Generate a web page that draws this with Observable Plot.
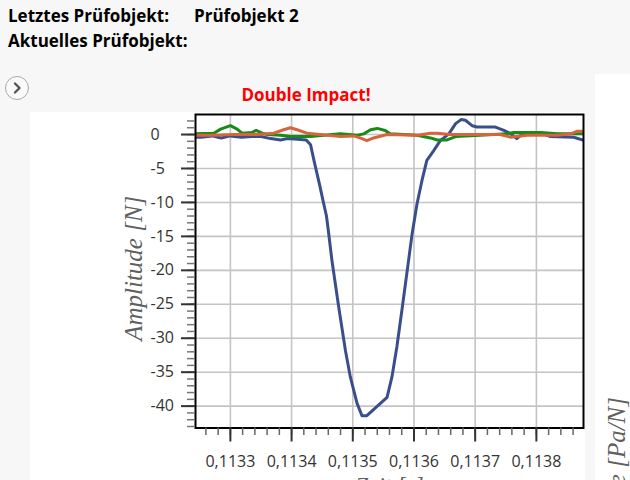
<!DOCTYPE html>
<html>
<head>
<meta charset="utf-8">
<script src="https://cdn.jsdelivr.net/npm/d3@7"></script>
<script src="https://cdn.jsdelivr.net/npm/@observablehq/plot@0.6"></script>
<style>
  html, body { margin: 0; padding: 0; width: 630px; height: 480px; overflow: hidden; background: #f7f7f7; font-family: "Open Sans", sans-serif; }
  .abs { position: absolute; white-space: nowrap; }
  .hdr { font-weight: 700; font-size: 17px; line-height: 20px; color: #000; }
  #title { left: 156px; width: 300px; top: 85px; text-align: center; color: #ff0000; font-weight: 700; font-size: 17px; line-height: 20px; }
  #btn { left: 5px; top: 76px; width: 22px; height: 22px; border: 1.5px solid #a8a8a8; border-radius: 50%; background: #fafafa; }
  #panel2 { left: 595px; top: 74px; width: 35px; height: 406px; background: #fff; }
  #chart { left: 30px; top: 112px; }
</style>
</head>
<body>
<div class="abs hdr" style="left:8px;top:6px;">Letztes Prüfobjekt:</div>
<div class="abs hdr" style="left:194px;top:6px;">Prüfobjekt 2</div>
<div class="abs hdr" style="left:8px;top:31px;">Aktuelles Prüfobjekt:</div>
<div class="abs" id="btn">
  <svg width="22" height="22" style="display:block"><path d="M9 6.5 L13.5 11 L9 15.5" fill="none" stroke="#555" stroke-width="2.4" stroke-linecap="round" stroke-linejoin="round"/></svg>
</div>
<div class="abs" id="title">Double Impact!</div>
<div class="abs" id="panel2">
  <svg width="35" height="406" style="display:block">
    <text transform="translate(30,323) rotate(-90)" text-anchor="end" font-family="Liberation Serif" font-style="italic" font-size="25" fill="#606060">Amplitude [Pa/N]</text>
  </svg>
</div>
<div class="abs" id="chart"></div>
<script>
// Blue series (time [s], amplitude [N])
const blueT = [0.113243,0.113252,0.113270,0.113285,0.113300,0.113318,0.113335,0.113350,0.113366,0.113382,0.113393,0.113410,0.113424,0.113431,0.113437,0.113446,0.113452,0.113457,0.113460,0.113466,0.113477,0.113488,0.113496,0.113507,0.113515,0.113523,0.113556,0.113564,0.113572,0.113581,0.113589,0.113597,0.113605,0.113613,0.113621,0.113632,0.113643,0.113657,0.113668,0.113677,0.113684,0.113695,0.113703,0.113733,0.113747,0.113758,0.113768,0.113777,0.113790,0.113807,0.113823,0.113861,0.113876];
const blueA = [-0.4,-0.4,-0.2,-0.5,-0.2,-0.4,-0.3,-0.3,-0.6,-0.8,-0.6,-0.7,-0.8,-1.5,-4.0,-7.5,-10.0,-12.0,-14.1,-18.6,-25.4,-31.8,-35.7,-39.6,-41.4,-41.4,-38.7,-35.7,-31.3,-25.4,-20.0,-14.6,-10.2,-6.8,-3.8,-2.4,-0.9,0.1,1.6,2.2,2.1,1.3,1.1,1.1,0.6,0.1,-0.6,0.1,0.3,0.2,-0.3,-0.4,-0.8];
// Green series
const greenT = [0.113243,0.113273,0.113284,0.113300,0.113311,0.113319,0.113335,0.113342,0.113352,0.113360,0.113382,0.113398,0.113431,0.113480,0.113507,0.113518,0.113529,0.113540,0.113553,0.113561,0.113605,0.113627,0.113638,0.113654,0.113668,0.113708,0.113752,0.113763,0.113807,0.113834,0.113861,0.113876];
const greenA = [0.1,0.2,0.8,1.3,0.8,0.2,0.3,0.6,0.2,0.0,-0.1,-0.3,-0.3,0.1,-0.1,0.1,0.7,0.9,0.6,0.1,-0.1,-0.5,-0.8,-0.8,-0.3,-0.1,0.1,0.3,0.3,0.1,0.1,0.1];
// Orange series
const orangeT = [0.113243,0.113272,0.113305,0.113344,0.113371,0.113387,0.113398,0.113409,0.113425,0.113447,0.113480,0.113501,0.113512,0.113523,0.113534,0.113556,0.113605,0.113627,0.113638,0.113659,0.113741,0.113758,0.113785,0.113834,0.113856,0.113867,0.113876];
const orangeA = [-0.1,-0.1,0.0,0.0,0.2,0.7,1.0,0.7,0.2,0.0,-0.3,-0.2,-0.5,-0.9,-0.5,0.0,-0.1,0.2,0.2,0.0,0.0,-0.4,-0.1,-0.1,0.1,0.5,0.5];

const xTicks = [0.1133, 0.1134, 0.1135, 0.1136, 0.1137, 0.1138];
const xTickLabels = ["0,1133", "0,1134", "0,1135", "0,1136", "0,1137", "0,1138"];
const yTicks = [0, -5, -10, -15, -20, -25, -30, -35, -40];
const yTickLabels = ["0", "-5", "-10", "-15", "-20", "-25", "-30", "-35", "-40"];
const xDomain = [0.113243, 0.113877];
const yDomain = [-43.22, 2.95];

const xMinor = d3.range(0.11326, 0.113877, 0.00002);
const yMinor = d3.range(-43, 3, 1);

const toRows = (T, A) => T.map((t, i) => ({t, a: A[i]}));
const blue = toRows(blueT, blueA);
const green = toRows(greenT, greenA);
const orange = toRows(orangeT, orangeA);

const chart = Plot.plot({
  width: 555,
  height: 368,
  marginLeft: 165,
  marginRight: 2,
  marginTop: 2,
  marginBottom: 52.5,
  style: { fontFamily: "Open Sans", fontSize: "16px", color: "#333", background: "#fff" },
  x: { domain: xDomain, label: null },
  y: { domain: yDomain, label: null },
  marks: [
    Plot.gridX(xTicks, { stroke: "#c4c4c4", strokeOpacity: 1, strokeWidth: 1.6 }),
    Plot.gridY(yTicks, { stroke: "#c4c4c4", strokeOpacity: 1, strokeWidth: 1.6 }),
    Plot.line(blue, { x: "t", y: "a", stroke: "#3a4e8c", strokeWidth: 3, clip: true }),
    Plot.line(green, { x: "t", y: "a", stroke: "#178a17", strokeWidth: 3, clip: true }),
    Plot.line(orange, { x: "t", y: "a", stroke: "#d8643e", strokeWidth: 3, clip: true }),
    Plot.frame({ stroke: "#000", strokeWidth: 2 }),
    Plot.axisX(xMinor, { tickSize: 7.5, tickFormat: () => "", stroke: "#666", strokeWidth: 1.5 }),
    Plot.axisX(xTicks, { tickSize: 14, tickFormat: () => "", stroke: "#333", strokeWidth: 2 }),
    Plot.axisX(xTicks, { tickSize: 0, tickPadding: 28, tickFormat: d => xTickLabels[xTicks.indexOf(d)], fill: "#333" }),
    Plot.axisY(yMinor, { tickSize: 8, tickFormat: () => "", stroke: "#777", strokeWidth: 1.5 }),
    Plot.axisY(yTicks, { tickSize: 14, tickFormat: () => "", stroke: "#333", strokeWidth: 2 }),
    Plot.axisY(yTicks, { tickSize: 0, tickPadding: 45, textAnchor: "start", tickFormat: d => yTickLabels[yTicks.indexOf(d)], fill: "#333" }),
    Plot.text(["Amplitude [N]"], { frameAnchor: "left", textAnchor: "middle", dx: -62, dy: -3, rotate: -90, text: d => d, fontFamily: "Liberation Serif", fontStyle: "italic", fontSize: 25, fill: "#606060" }),
    Plot.text(["Zeit [s]"], { frameAnchor: "bottom", textAnchor: "middle", lineAnchor: "top", dy: 49, text: d => d, fontFamily: "Liberation Serif", fontStyle: "italic", fontSize: 23, fill: "#606060" })
  ]
});
document.getElementById("chart").appendChild(chart);
</script>
</body>
</html>
